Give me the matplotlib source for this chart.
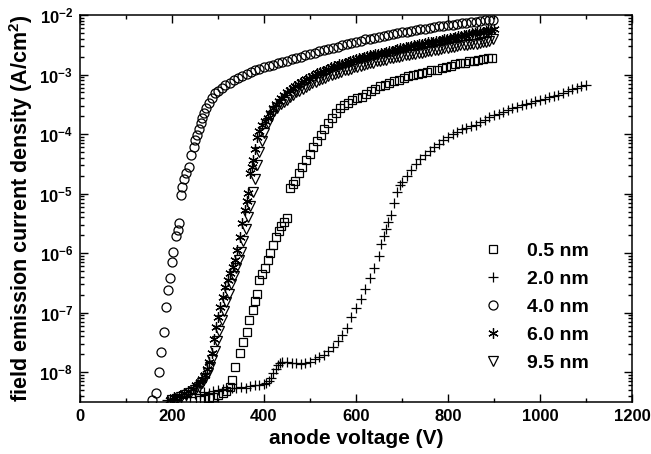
import numpy as np
import matplotlib
matplotlib.use("Agg")
import matplotlib.pyplot as plt
from matplotlib.ticker import FuncFormatter, MultipleLocator, FixedLocator, NullFormatter

# ---------------- data ----------------
labels = ["0.5 nm", "2.0 nm", "4.0 nm", "6.0 nm", "9.5 nm"]

v_05 = [260, 270, 280, 290, 300, 310, 318, 325, 330, 337, 348, 355, 362, 368, 375, 380, 385, 390,
        396, 402, 408, 414, 420, 425, 432, 438, 443, 449, 456, 462, 467, 475, 483, 491, 499, 507,
        515, 523, 531, 539, 547, 556, 565, 574, 583, 592, 602, 612, 622, 632, 642, 652, 662, 672,
        682, 694, 704, 714, 724, 734, 744, 754, 764, 776, 786, 796, 806, 816, 826, 836, 846, 856,
        866, 876, 886, 896]
lj_05 = [-8.47, -8.45, -8.43, -8.41, -8.38, -8.35, -8.32, -8.25, -8.13, -7.92, -7.68, -7.49, -7.33,
         -7.13, -6.95, -6.80, -6.68, -6.45, -6.35, -6.25, -6.12, -6.00, -5.87, -5.73, -5.62, -5.55,
         -5.48, -5.41, -4.91, -4.84, -4.78, -4.66, -4.55, -4.44, -4.33, -4.22, -4.12, -4.02, -3.92,
         -3.82, -3.73, -3.64, -3.57, -3.52, -3.47, -3.43, -3.40, -3.38, -3.33, -3.28, -3.24, -3.20,
         -3.17, -3.14, -3.11, -3.09, -3.06, -3.03, -3.01, -2.99, -2.97, -2.95, -2.93, -2.92, -2.89,
         -2.87, -2.85, -2.83, -2.81, -2.80, -2.78, -2.77, -2.76, -2.74, -2.73, -2.72]

v_20 = [190, 200, 210, 220, 230, 240, 250, 260, 270, 280, 290, 300, 310, 320, 330, 340, 350, 360,
        370, 380, 390, 400, 405, 410, 415, 420, 425, 430, 435, 440, 450, 460, 470, 480, 490, 500,
        510, 520, 530, 540, 550, 560, 570, 580, 590, 600, 610, 620, 630, 640, 650, 655, 660, 665,
        670, 676, 683, 689, 695, 700, 710, 720, 730, 740, 750, 760, 770, 780, 790, 800, 810, 820,
        830, 840, 850, 860, 870, 880, 890, 900, 910, 920, 930, 940, 950, 960, 970, 980, 990, 1000,
        1010, 1020, 1030, 1040, 1050, 1060, 1070, 1080, 1090, 1100]
lj_20 = [-8.47, -8.45, -8.46, -8.42, -8.40, -8.41, -8.37, -8.36, -8.33, -8.35, -8.31, -8.30, -8.29,
         -8.30, -8.27, -8.27, -8.25, -8.26, -8.23, -8.22, -8.22, -8.20, -8.18, -8.14, -8.10, -8.02,
         -7.95, -7.88, -7.84, -7.83, -7.83, -7.84, -7.85, -7.86, -7.85, -7.82, -7.78, -7.74, -7.71,
         -7.65, -7.58, -7.48, -7.38, -7.25, -7.08, -6.92, -6.77, -6.60, -6.42, -6.25, -6.05, -5.85,
         -5.72, -5.60, -5.48, -5.36, -5.16, -4.97, -4.86, -4.80, -4.70, -4.60, -4.50, -4.42, -4.35,
         -4.28, -4.22, -4.16, -4.10, -4.05, -4.00, -3.96, -3.92, -3.90, -3.87, -3.85, -3.80, -3.76,
         -3.72, -3.68, -3.66, -3.63, -3.60, -3.57, -3.55, -3.52, -3.50, -3.47, -3.45, -3.43, -3.41,
         -3.38, -3.36, -3.34, -3.31, -3.28, -3.25, -3.23, -3.20, -3.18]

v_40 = [157, 165, 172, 177, 183, 188, 192, 195, 199, 202, 208, 212, 215, 219, 222, 227, 231, 237,
        242, 247, 251, 255, 258, 262, 265, 269, 274, 280, 287, 294, 300, 308, 316, 325, 334, 344,
        352, 362, 371, 380, 390, 400, 410, 420, 430, 440, 450, 460, 470, 480, 490, 500, 510, 520,
        530, 540, 550, 560, 570, 580, 590, 600, 610, 620, 630, 640, 650, 660, 670, 680, 690, 700,
        710, 720, 730, 740, 750, 760, 770, 780, 790, 800, 810, 820, 830, 840, 850, 860, 870, 880,
        890, 898]
lj_40 = [-8.47, -8.35, -8.00, -7.66, -7.33, -6.91, -6.62, -6.42, -6.15, -5.98, -5.72, -5.61, -5.50,
         -5.03, -4.89, -4.76, -4.66, -4.55, -4.35, -4.21, -4.10, -4.01, -3.91, -3.82, -3.73, -3.65,
         -3.56, -3.48, -3.40, -3.31, -3.27, -3.22, -3.18, -3.14, -3.10, -3.05, -3.02, -2.99, -2.95,
         -2.92, -2.90, -2.88, -2.86, -2.84, -2.81, -2.79, -2.77, -2.74, -2.72, -2.70, -2.68, -2.66,
         -2.63, -2.61, -2.59, -2.57, -2.55, -2.53, -2.51, -2.49, -2.47, -2.45, -2.43, -2.41, -2.40,
         -2.38, -2.37, -2.35, -2.34, -2.32, -2.31, -2.29, -2.28, -2.27, -2.25, -2.24, -2.23, -2.22,
         -2.20, -2.19, -2.18, -2.17, -2.16, -2.15, -2.14, -2.13, -2.12, -2.11, -2.10, -2.09, -2.09,
         -2.08]

v_60 = [195, 205, 215, 225, 235, 245, 253, 260, 266, 271, 276, 281, 287, 291, 296, 300, 305, 310,
        316, 321, 326, 332, 337, 342, 348, 353, 359, 363, 366, 370, 373, 377, 381, 384, 390, 396,
        402, 408, 414, 420, 426, 432, 438, 444, 450, 456, 462, 468, 474, 480, 486, 492, 498, 504,
        510, 516, 522, 528, 534, 540, 546, 552, 558, 564, 570, 576, 582, 588, 594, 600, 606, 612,
        618, 624, 630, 636, 642, 648, 654, 660, 666, 672, 678, 684, 690, 696, 702, 708, 714, 720,
        726, 732, 738, 744, 750, 756, 762, 768, 774, 780, 786, 792, 798, 804, 810, 816, 822, 828,
        834, 840, 846, 852, 858, 864, 870, 876, 882, 888, 894, 900]
lj_60 = [-8.47, -8.42, -8.40, -8.35, -8.32, -8.28, -8.22, -8.17, -8.12, -8.05, -7.95, -7.82, -7.68,
         -7.45, -7.24, -7.08, -6.91, -6.74, -6.57, -6.45, -6.34, -6.23, -6.12, -5.95, -5.73, -5.50,
         -5.28, -5.12, -4.99, -4.66, -4.55, -4.44, -4.25, -4.05, -3.95, -3.85, -3.78, -3.73, -3.64,
         -3.56, -3.49, -3.44, -3.39, -3.34, -3.29, -3.26, -3.22, -3.19, -3.16, -3.13, -3.11, -3.08,
         -3.06, -3.03, -3.01, -2.98, -2.96, -2.94, -2.92, -2.90, -2.88, -2.86, -2.85, -2.83, -2.82,
         -2.80, -2.79, -2.77, -2.76, -2.74, -2.73, -2.72, -2.71, -2.69, -2.68, -2.67, -2.66, -2.65,
         -2.64, -2.63, -2.62, -2.61, -2.60, -2.58, -2.57, -2.56, -2.55, -2.54, -2.53, -2.52, -2.51,
         -2.50, -2.49, -2.48, -2.47, -2.46, -2.46, -2.45, -2.44, -2.43, -2.42, -2.41, -2.40, -2.39,
         -2.38, -2.37, -2.36, -2.35, -2.34, -2.33, -2.32, -2.31, -2.30, -2.29, -2.28, -2.28, -2.27,
         -2.26, -2.25, -2.24]

v_95 = [200, 210, 220, 230, 240, 250, 258, 265, 272, 278, 283, 288, 293, 298, 303, 308, 313, 318,
        323, 329, 335, 340, 345, 350, 355, 360, 365, 370, 375, 380, 385, 390, 395, 400, 408, 415,
        422, 429, 436, 443, 449, 456, 463, 470, 477, 484, 491, 498, 505, 512, 519, 526, 533, 540,
        547, 554, 561, 568, 575, 582, 589, 596, 603, 610, 617, 624, 631, 638, 645, 652, 659, 666,
        673, 680, 687, 694, 701, 708, 715, 722, 729, 736, 743, 750, 757, 764, 771, 778, 785, 792,
        799, 806, 813, 820, 827, 834, 841, 848, 855, 862, 869, 876, 883, 890, 897]
lj_95 = [-8.47, -8.45, -8.42, -8.38, -8.35, -8.30, -8.25, -8.18, -8.10, -8.02, -7.92, -7.80, -7.65,
         -7.48, -7.30, -7.12, -6.97, -6.82, -6.68, -6.52, -6.38, -6.25, -6.12, -5.98, -5.80, -5.60,
         -5.40, -5.20, -4.98, -4.75, -4.52, -4.30, -4.12, -3.98, -3.82, -3.70, -3.62, -3.56, -3.50,
         -3.46, -3.43, -3.38, -3.34, -3.30, -3.27, -3.24, -3.21, -3.18, -3.15, -3.12, -3.10, -3.08,
         -3.05, -3.03, -3.01, -2.99, -2.97, -2.95, -2.93, -2.92, -2.90, -2.88, -2.87, -2.85, -2.84,
         -2.82, -2.81, -2.80, -2.78, -2.77, -2.76, -2.75, -2.73, -2.72, -2.71, -2.70, -2.69, -2.68,
         -2.67, -2.66, -2.65, -2.64, -2.63, -2.62, -2.61, -2.60, -2.59, -2.58, -2.57, -2.56, -2.55,
         -2.54, -2.53, -2.52, -2.51, -2.51, -2.50, -2.49, -2.48, -2.48, -2.47, -2.46, -2.45, -2.43,
         -2.41]

xs = [v_05, v_20, v_40, v_60, v_95]
ys = [lj_05, lj_20, lj_40, lj_60, lj_95]
decades = [-8, -7, -6, -5, -4, -3, -2]

# ---------------- style ----------------
plt.rcParams['font.family'] = ['Liberation Sans', 'DejaVu Sans']
plt.rcParams['font.weight'] = 'bold'
plt.rcParams['mathtext.fontset'] = 'custom'
plt.rcParams['mathtext.rm'] = 'Liberation Sans:bold'
plt.rcParams['mathtext.it'] = 'Liberation Sans:bold'
plt.rcParams['mathtext.bf'] = 'Liberation Sans:bold'

fig = plt.figure(figsize=(6.51, 4.54), dpi=100)
ax = fig.add_axes([80/651, 1 - 402/454, (632 - 80)/651, (402 - 15)/454])

markers = [dict(marker='s', ms=6.0),
           dict(marker='+', ms=7.5),
           dict(marker='o', ms=6.5),
           dict(marker=(6, 2, 0), ms=7.5),
           dict(marker='v', ms=7.0)]

for x, y, lab, m in zip(xs, ys, labels, markers):
    ax.plot(x, 10.0 ** np.array(y), linestyle='none', color='black',
            mfc='none', mec='black', mew=0.9, label=lab, **m)

ax.set_yscale('log')
ax.set_xlim(0, 1200)
ax.set_ylim(10 ** -8.5, 1e-2)

ax.xaxis.set_major_locator(MultipleLocator(200))
ax.xaxis.set_minor_locator(MultipleLocator(100))
ax.yaxis.set_major_locator(FixedLocator([10.0 ** d for d in decades]))
minor = [k * 10.0 ** d for d in range(-9, -2) for k in range(2, 10)
         if 10 ** -8.5 <= k * 10.0 ** d <= 1e-2]
ax.yaxis.set_minor_locator(FixedLocator(minor))
ax.yaxis.set_minor_formatter(NullFormatter())
ax.yaxis.set_major_formatter(FuncFormatter(
    lambda v, p: r'$\mathrm{10^{%d}}$' % int(round(np.log10(v)))))

ax.tick_params(which='both', direction='in', top=True, right=True, width=1.0)
ax.tick_params(which='major', length=6, labelsize=12, pad=5)
ax.tick_params(which='minor', length=3)
for s in ax.spines.values():
    s.set_linewidth(1.1)
for t in ax.get_xticklabels() + ax.get_yticklabels():
    t.set_fontweight('bold')

ax.set_xlabel('anode voltage (V)', fontsize=15, fontweight='bold', labelpad=4)
ax.set_ylabel(r'field emission current density (A/cm$^\mathrm{2}$)', fontsize=15.5,
              fontweight='bold', labelpad=3)

ax.legend(loc='lower left', bbox_to_anchor=((483 - 80) / 552, (402 - 372) / 387),
          frameon=False, prop={'size': 14, 'weight': 'bold'}, handlelength=1.0,
          handletextpad=1.27, labelspacing=0.54, borderpad=0, borderaxespad=0,
          numpoints=1)

fig.savefig('out.png', dpi=100)
